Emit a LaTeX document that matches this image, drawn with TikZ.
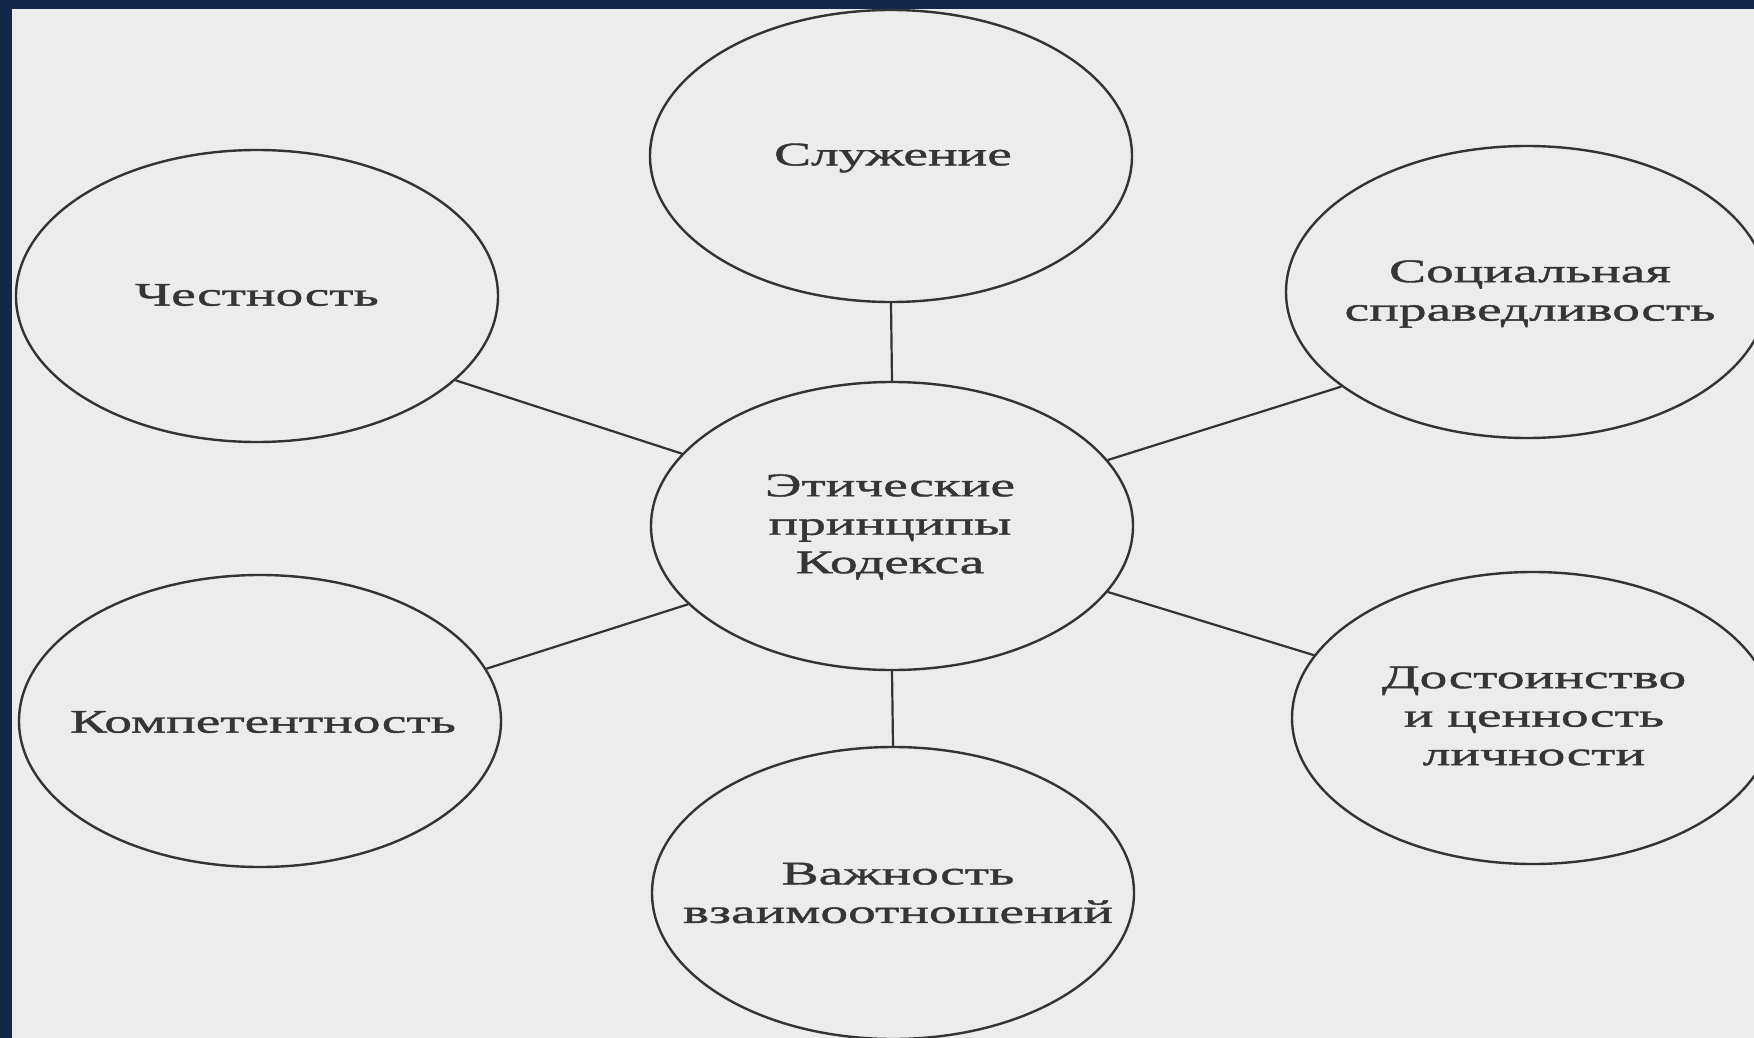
\documentclass[tikz,border=0pt]{standalone}
\usepackage{fontspec}
\setmainfont[FakeStretch=1.68,FakeBold=1.3]{Liberation Serif}
\usetikzlibrary{shapes.geometric}
\definecolor{navy}{HTML}{13284A}
\definecolor{paper}{HTML}{ECECEC}
\definecolor{linec}{HTML}{333333}
\definecolor{txtc}{HTML}{353535}
\begin{document}
\begin{tikzpicture}[x=1pt,y=-1pt,
  bub/.style={ellipse, draw=linec, line width=2.4pt, minimum width=482pt, minimum height=292pt,
              inner sep=0pt},
  lab/.style={align=center, text=txtc, inner sep=0pt, font=\fontsize{33}{38.5}\selectfont},
  link/.style={draw=linec, line width=2.2pt}]
\useasboundingbox (0,0) rectangle (1754,1038);
\clip (0,0) rectangle (1754,1038);
\fill[navy] (0,0) rectangle (1754,1038);
\fill[paper] (12,9) rectangle (1754,1038);

\node[bub] (sl)   at (891,156)  {};
\node[bub] (ch)   at (257,296)  {};
\node[bub] (soc)  at (1527,292) {};
\node[bub, minimum height=288pt] (ctr) at (892,526) {};
\node[bub] (komp) at (260,721)  {};
\node[bub] (dost) at (1533,718) {};
\node[bub] (vazh) at (893,893)  {};

\node[lab] (slT)   at (893,158)  {Служение};
\node[lab] (chT)   at (257,295)  {Честность};
\node[lab] (socT)  at (1530,294) {Социальная\\справедливость};
\node[lab] (ctrT)  at (890,527)  {Этические\\принципы\\Кодекса};
\node[lab] (kompT) at (263,722)  {Компетентность};
\node[lab] (dostT) at (1534,716) {Достоинство\\и ценность\\личности};
\node[lab] (vazhT) at (898,893)  {Важность\\взаимоотношений};

\draw[link] (sl.south) -- (ctr.north);
\draw[link] (ch.-23) -- (ctr.161);
\draw[link] (soc.-153) -- (ctr.17);
\draw[link] (ctr.201) -- (komp.13);
\draw[link] (ctr.-17) -- (dost.164);
\draw[link] (ctr.south) -- (vazh.north);
\end{tikzpicture}
\end{document}
